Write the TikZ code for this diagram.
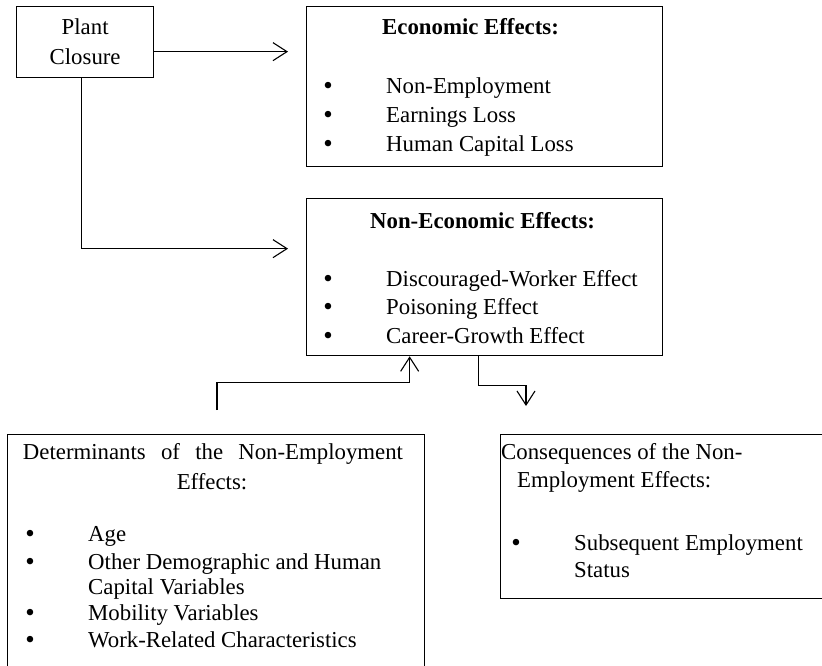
\documentclass[tikz,border=0pt]{standalone}
\usepackage{fontspec}
\setmainfont{Liberation Serif}
\usepackage{tikz}
\usetikzlibrary{positioning}
\usetikzlibrary{arrows.meta}

\begin{document}
\begin{tikzpicture}
  [
    x=1pt, y=-1pt,
    box/.style={draw=black, line width=1.3pt, anchor=north west, inner sep=0pt},
    txt/.style={anchor=base west, inner sep=0pt,
      font=\fontsize{22.8pt}{29pt}\selectfont},
    hd/.style={txt, font=\fontsize{22.8pt}{29pt}\selectfont\bfseries},
    hdc/.style={txt, anchor=base},
    bul/.style={anchor=base, inner sep=0pt, font=\fontsize{27pt}{29pt}\selectfont},
    ln/.style={line width=1.1pt, ->},
    >={Straight Barb[length=14pt, width=18pt]}
  ]
  \useasboundingbox (0,0) rectangle (822,666);

  % boxes
  \node (plant) at ( 16,  6) [box, minimum width=137pt, minimum height=71pt,
    align=center, font=\fontsize{22.8pt}{30pt}\selectfont] {Plant\\Closure};
  \node (econ)  at (306,  6) [box, minimum width=356pt, minimum height=160pt] {};
  \node (necon) at (306,198) [box, minimum width=356pt, minimum height=157pt] {};
  \node (det)   at (  7,434) [box, minimum width=417pt, minimum height=270pt] {};
  \node (cons)  at (500,434) [box, minimum width=340pt, minimum height=164pt] {};

  % economic effects
  \node (e0) at (382, 35) [hd]  {Economic Effects:};
  \node (eb1) at (328, 95) [bul] {\textbullet};
  \node (eb2) at (328,124) [bul] {\textbullet};
  \node (eb3) at (328,153) [bul] {\textbullet};
  \node (e1) at (386, 94) [txt] {Non-Employment};
  \node (e2) at (386,123) [txt] {Earnings Loss};
  \node (e3) at (386,152) [txt] {Human Capital Loss};

  % non-economic effects
  \node (n0) at (370,228) [hd]  {Non-Economic Effects:};
  \node (nb1) at (328,287) [bul] {\textbullet};
  \node (nb2) at (328,315) [bul] {\textbullet};
  \node (nb3) at (328,344) [bul] {\textbullet};
  \node (n1) at (386,286) [txt] {Discouraged-Worker Effect};
  \node (n2) at (386,314) [txt] {Poisoning Effect};
  \node (n3) at (386,343) [txt] {Career-Growth Effect};

  % determinants
  \node (d0) at (213,459) [hdc] {\makebox[380pt][s]{Determinants of the Non-Employment}};
  \node (d0b) at (212,489) [hdc] {Effects:};
  \node (db1) at (30,542) [bul] {\textbullet};
  \node (db2) at (30,570) [bul] {\textbullet};
  \node (db3) at (30,621) [bul] {\textbullet};
  \node (db4) at (30,648) [bul] {\textbullet};
  \node (d1) at (88,541) [txt] {Age};
  \node (d2) at (88,569) [txt] {Other Demographic and Human};
  \node (d2b) at (88,594) [txt] {Capital Variables};
  \node (d3) at (88,620) [txt] {Mobility Variables};
  \node (d4) at (88,647) [txt] {Work-Related Characteristics};

  % consequences
  \node (c0) at (501,459) [txt] {Consequences of the Non-};
  \node (c0b) at (517,487) [txt] {Employment Effects:};
  \node (cb1) at (516,551) [bul] {\textbullet};
  \node (c1) at (574,550) [txt] {Subsequent Employment};
  \node (c1b) at (574,577) [txt] {Status};

  % connectors
  \coordinate (pe) at ([yshift=-9.5pt]plant.east);
  \coordinate (nin) at ([xshift=-75pt]necon.south);
  \coordinate (nout) at ([xshift=-6pt]necon.south);
  \coordinate (din) at (217,410);
  \coordinate (cin) at (526,406);

  \draw [ln, shorten >=18pt] (pe) -- (pe -| econ.west);
  \draw [ln, shorten >=18pt] ([xshift=-3.5pt]plant.south)
    |- ([yshift=28.5pt]necon.west);
  \draw [ln] (din) -- ++(0,-27.5) -| (nin);
  \draw [ln] (nout) -- ++(0,29.5) -| (cin);
\end{tikzpicture}
\end{document}
